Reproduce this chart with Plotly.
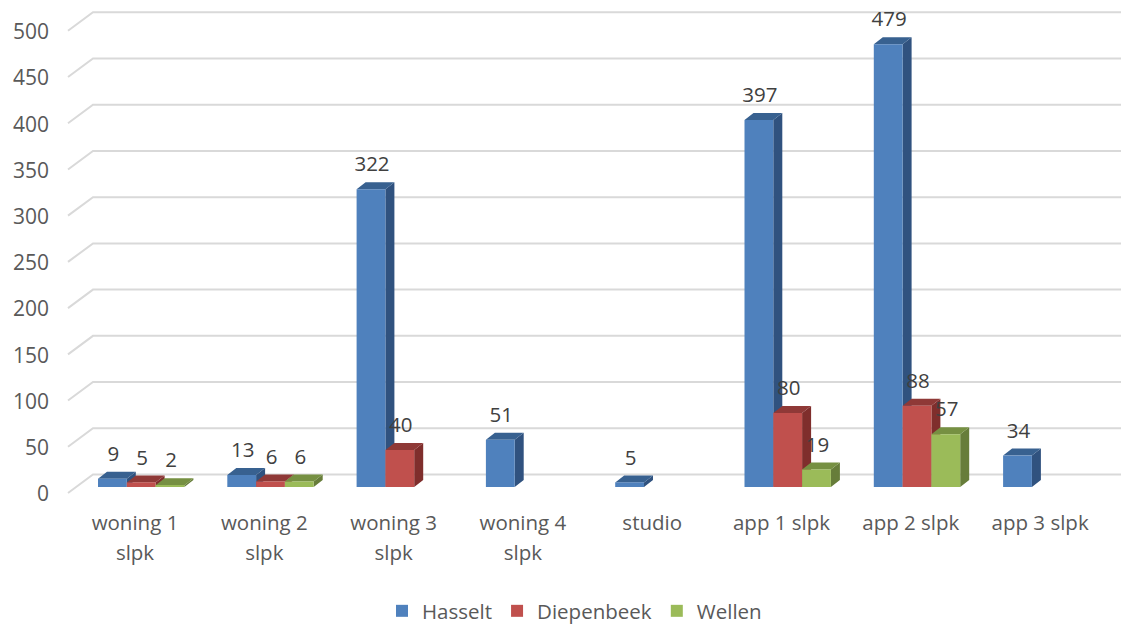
import plotly.graph_objects as go

categories = ['woning 1 slpk', 'woning 2 slpk', 'woning 3 slpk', 'woning 4 slpk',
              'studio', 'app 1 slpk', 'app 2 slpk', 'app 3 slpk']
tick_labels = ['woning 1<br>slpk', 'woning 2<br>slpk', 'woning 3<br>slpk', 'woning 4<br>slpk',
               'studio', 'app 1 slpk', 'app 2 slpk', 'app 3 slpk']
y_ticks = [0, 50, 100, 150, 200, 250, 300, 350, 400, 450, 500]

hasselt = [9, 13, 322, 51, 5, 397, 479, 34]
diepenbeek = [5, 6, 40, None, None, 80, 88, None]
wellen = [2, 6, None, None, None, 19, 57, None]

# name, values, front, side, top colour
series = [
    ('Hasselt', hasselt, '#4f81bd', '#30527f', '#386190'),
    ('Diepenbeek', diepenbeek, '#c0504d', '#7f2e2c', '#8f3937'),
    ('Wellen', wellen, '#9bbb59', '#677d3a', '#769042'),
]

# pixels per data unit, used for the fake 3d depth
px_x = 129.3
px_y = 0.9245
bar_w = 28.8 / px_x
bar_start = -37 / px_x
depth_x = 9 / px_x
depth_y = 7 / px_y

fig = go.Figure()

# back wall gridlines with the short diagonal on the left
gx, gy = [], []
for t in y_ticks:
    gx += [(68 - 135) / px_x, (93 - 135) / px_x, (1121 - 135) / px_x, None]
    gy += [t - 6 / px_y, t + 12.5 / px_y, t + 12.5 / px_y, None]
fig.add_trace(go.Scatter(x=gx, y=gy, mode='lines', line=dict(color='#d9d9d9', width=2),
                         showlegend=False, hoverinfo='skip', zorder=-1))

for s, (name, vals, front, side, top) in enumerate(series):
    sx, sy, tx, ty = [], [], [], []
    for i, v in enumerate(vals):
        if v is None:
            continue
        xl = i + bar_start + s * bar_w
        xr = xl + bar_w
        sx += [xr, xr + depth_x, xr + depth_x, xr, xr, None]
        sy += [0, depth_y, v + depth_y, v, 0, None]
        tx += [xl, xl + depth_x, xr + depth_x, xr, xl, None]
        ty += [v, v + depth_y, v + depth_y, v, v, None]
    fig.add_trace(go.Scatter(x=sx, y=sy, mode='lines', fill='toself', fillcolor=side,
                             line=dict(width=0, color=side), showlegend=False,
                             hoverinfo='skip', zorder=s * 2))
    fig.add_trace(go.Scatter(x=tx, y=ty, mode='lines', fill='toself', fillcolor=top,
                             line=dict(width=0, color=top), showlegend=False,
                             hoverinfo='skip', zorder=s * 2))
    fig.add_trace(go.Bar(x=list(range(len(vals))), y=vals, name=name, width=bar_w,
                         offset=bar_start + s * bar_w, marker=dict(color=front, line=dict(width=0)),
                         zorder=s * 2 + 1))

# data labels sit a fixed distance above the front of each bar
for s, (name, vals, front, side, top) in enumerate(series):
    lx = [i + bar_start + (s + 0.5) * bar_w + 1 / px_x for i, v in enumerate(vals) if v is not None]
    ly = [v + 23 / px_y for v in vals if v is not None]
    lt = [str(v) for v in vals if v is not None]
    fig.add_trace(go.Scatter(x=lx, y=ly, text=lt, mode='text', textposition='middle center',
                             textfont=dict(family='Open Sans', size=20.5, color='#404040'),
                             showlegend=False, hoverinfo='skip', cliponaxis=False, zorder=10))

span = '<span style="font-size:20.5px">%s</span>'
fig.update_layout(
    width=1121, height=625,
    margin=dict(l=50, r=0, t=0, b=0, autoexpand=False),
    paper_bgcolor='white', plot_bgcolor='white',
    barmode='overlay',
    font=dict(family='Open Sans', color='#595959'),
    legend=dict(orientation='h', x=0.31, xanchor='left', y=0.0224, yanchor='middle',
                font=dict(size=20.5, color='#595959'), traceorder='normal'),
    xaxis=dict(range=[(50 - 135) / px_x, (1121 - 135) / px_x], showgrid=False, zeroline=False,
               showline=False, ticks='', tickmode='array', tickvals=list(range(len(categories))),
               ticktext=['<br>'.join(span % p for p in t.split('<br>')) for t in tick_labels],
               tickfont=dict(size=23, color='#595959'), ticklabelstandoff=-4),
    yaxis=dict(domain=[115 / 625, 1], range=[-(510 - 487) / px_y, 487 / px_y], showgrid=False,
               zeroline=False, showline=False, ticks='', tickvals=y_ticks, ticklabelshift=7,
               tickfont=dict(size=21, color='#595959')),
)

fig.write_html('out.html', config=dict(displayModeBar=False),
               post_script="document.body.style.margin='0';")
